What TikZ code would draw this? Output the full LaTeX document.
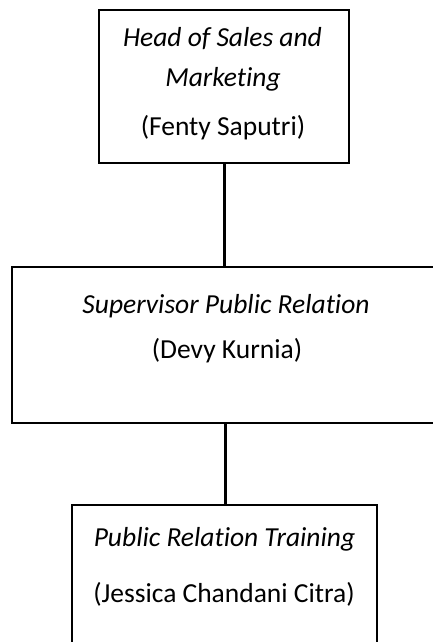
\documentclass[tikz,border=0pt]{standalone}
\usepackage{fontspec}
\setmainfont{Carlito}[Ligatures=NoCommon]
\begin{document}
\begin{tikzpicture}[x=1pt, y=-1pt,
    box/.style 2 args={draw, line width=2.2pt, minimum width=#1, minimum height=#2, inner sep=0pt},
    link/.style={line width=3pt},
    txt/.style={anchor=base, inner sep=0pt, font=\fontsize{27.5}{33}\selectfont}]
    \useasboundingbox (0,0) rectangle (433,642);
    % boxes
    \node[box={250pt}{153pt}] (head) at (224,86.5) {};
    \node[box={426pt}{156pt}] (spv) at (225,345) {};
    \node[box={305pt}{156pt}] (trn) at (224.5,583) {};
    % lines
    \draw[link] (head.south) -- (head.south |- spv.north);
    \draw[link] (spv.south) -- (spv.south |- trn.north);
    % texts
    \node[txt] (headA) at (222.5,47) {\itshape Head of Sales and};
    \node[txt] (headB) at (223,86) {\itshape Marketing};
    \node[txt] (headN) at (223,135) {(Fenty Saputri)};
    \node[txt] (spvA) at (226,313) {\itshape Supervisor Public Relation};
    \node[txt] (spvN) at (227,358) {(Devy Kurnia)};
    \node[txt] (trnA) at (224.5,546) {\itshape Public Relation Training};
    \node[txt] (trnN) at (224,602) {(Jessica Chandani Citra)};
\end{tikzpicture}
\end{document}
